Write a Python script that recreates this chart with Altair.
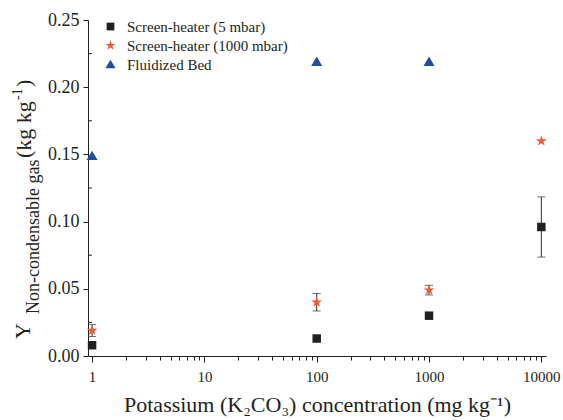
import altair as alt
import pandas as pd

# ---- data ----
series_names = ["Screen-heater (5 mbar)", "Screen-heater (1000 mbar)", "Fluidized Bed"]
conc = [1, 100, 1000, 10000]
sh5 = [0.008, 0.013, 0.030, 0.096]
sh5_err = [0.0, 0.0, 0.0, 0.0224]
sh1000 = [0.019, 0.040, 0.049, 0.160]
sh1000_err = [0.0045, 0.0065, 0.0036, 0.0]
fb_conc = [1, 100, 1000]
fb = [0.149, 0.219, 0.219]

x_ticks = [m * 10 ** k for k in range(0, 4) for m in range(1, 10)] + [10000]
y_major = [0.0, 0.05, 0.10, 0.15, 0.20, 0.25]
y_minor = [0.025, 0.075, 0.125, 0.175, 0.225]

colors = ["#231f20", "#f05a35", "#1f50a0"]
star = ("M0,-1.35L0.303,-0.417L1.284,-0.417L0.49,0.159L0.794,1.092L0,0.516"
        "L-0.794,1.092L-0.49,0.159L-1.284,-0.417L-0.303,-0.417Z")
tri = "M0,-1.2L1.3,1L-1.3,1Z"
shapes = ["square", star, tri]

rows = []
for c, v in zip(conc, sh5):
    rows.append({"conc": c, "y": v, "series": series_names[0]})
for c, v in zip(conc, sh1000):
    rows.append({"conc": c, "y": v, "series": series_names[1]})
for c, v in zip(fb_conc, fb):
    rows.append({"conc": c, "y": v, "series": series_names[2]})
pts = pd.DataFrame(rows)

erows = []
for c, v, e in zip(conc, sh5, sh5_err):
    if e > 0:
        erows.append({"conc": c, "lo": v - e, "hi": v + e})
for c, v, e in zip(conc, sh1000, sh1000_err):
    if e > 0:
        erows.append({"conc": c, "lo": v - e, "hi": v + e})
errs = pd.DataFrame(erows)

FONT = "Liberation Serif"
INK = "#231f20"
W, H = 458, 336

xscale = alt.Scale(type="log", domain=[0.92, 11000], nice=False)
yscale = alt.Scale(domain=[0, 0.25], nice=False, zero=True)

major_test = "abs(log(datum.value)/LN10 - round(log(datum.value)/LN10)) < 0.000001"

xaxis = alt.Axis(
    values=x_ticks,
    labelExpr=f"({major_test}) ? format(datum.value, 'd') : ''",
    tickSize={"condition": {"test": major_test, "value": 6}, "value": 4},
    labelOverlap=False,
    labelFlush=False,
    grid=False,
    labelFont=FONT, labelFontSize=15, labelColor=INK, labelPadding=7,
    title="Potassium (K\u2082CO\u2083) concentration (mg kg\u207b\u00b9)",
    titleFont=FONT, titleFontSize=22, titleFontWeight="normal", titleColor=INK,
    titlePadding=10,
    domainColor=INK, tickColor=INK,
)
yaxis = alt.Axis(
    values=y_major, format=".2f", grid=False, tickSize=5,
    labelFont=FONT, labelFontSize=18, labelColor=INK, labelPadding=4,
    title=None,
    domainColor=INK, tickColor=INK,
)

base_x = alt.X("conc:Q", scale=xscale, axis=xaxis)

err_rule = alt.Chart(errs).mark_rule(color="#333333", strokeWidth=1).encode(
    x=base_x,
    y=alt.Y("lo:Q", scale=yscale, axis=yaxis),
    y2="hi:Q",
)
cap_lo = alt.Chart(errs).mark_tick(color="#333333", orient="horizontal", size=8, thickness=1).encode(
    x="conc:Q", y="lo:Q"
)
cap_hi = alt.Chart(errs).mark_tick(color="#333333", orient="horizontal", size=8, thickness=1).encode(
    x="conc:Q", y="hi:Q"
)

points = alt.Chart(pts).mark_point(filled=True, opacity=1, size=72).encode(
    x="conc:Q",
    y="y:Q",
    color=alt.Color("series:N", scale=alt.Scale(domain=series_names, range=colors), title=None),
    shape=alt.Shape("series:N", scale=alt.Scale(domain=series_names, range=shapes), title=None),
)

minor = alt.Chart(pd.DataFrame({"v": y_minor})).mark_rule(color=INK).encode(
    y="v:Q", x=alt.value(0), x2=alt.value(4)
)

# y-axis title pieces (rotated)
def ytext(txt, x, y, size):
    return alt.Chart(pd.DataFrame({"t": [txt]})).mark_text(
        angle=270, align="left", baseline="alphabetic", font=FONT, fontSize=size, color=INK
    ).encode(text="t:N", x=alt.value(x), y=alt.value(y))

ox, oy = 88, 20
ytitle = [
    ytext("Y", 30 - ox, 339 - oy, 22),
    ytext("Non-condensable gas", 39 - ox, 314 - oy, 18),
    ytext("(kg kg", 31 - ox, 158 - oy, 22),
    ytext("-1", 22 - ox, 100 - oy, 14),
    ytext(")", 31 - ox, 87 - oy, 22),
]

chart = alt.layer(err_rule, cap_lo, cap_hi, minor, points, *ytitle).properties(
    width=W, height=H,
    autosize=alt.AutoSizeParams(type="none"),
    padding={"left": ox, "top": oy, "right": 563 - ox - W, "bottom": 420 - oy - H},
).configure_view(stroke=None).configure_legend(
    orient="none", legendX=15, legendY=-1, padding=0,
    labelFont=FONT, labelFontSize=15, labelColor=INK, labelLimit=400,
    symbolSize=60, rowPadding=3, labelOffset=9,
)

chart.save("out.html", embed_options={"renderer": "svg", "actions": False})
